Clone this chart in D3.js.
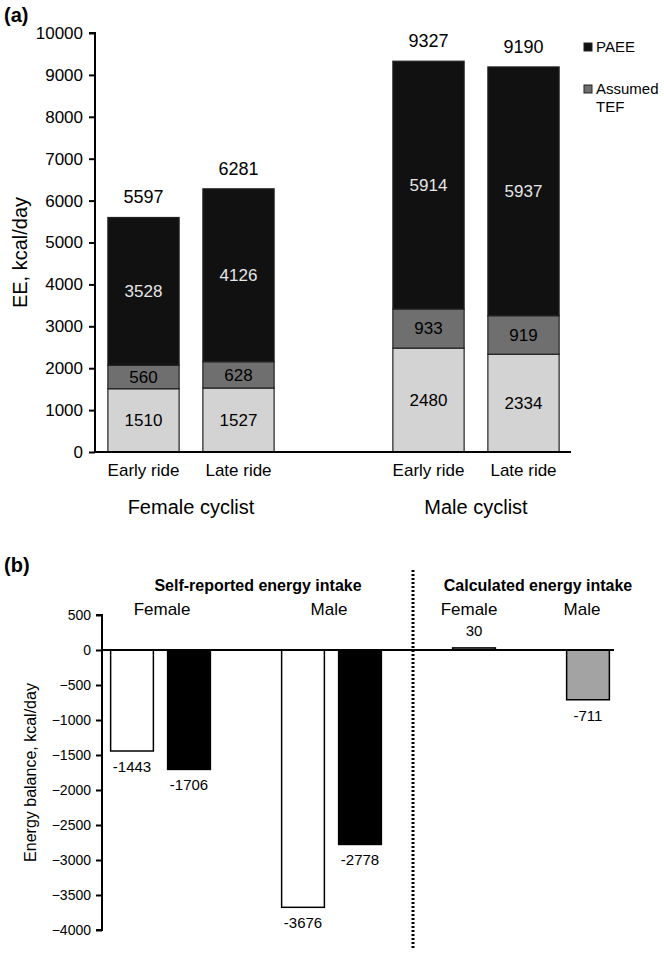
<!DOCTYPE html>
<html><head><meta charset="utf-8">
<script src="https://cdn.jsdelivr.net/npm/d3@7"></script>
<style>
body{margin:0;background:#fff;}
svg{display:block;font-family:"Liberation Sans",Arial,sans-serif;}
</style></head>
<body><svg id="c" width="664" height="954"></svg>
<script>
// ---- Panel (a) data ----
const rideSlots = ["F-Early","F-Late","gap","M-Early","M-Late"];
const rideLabels = ["Early ride","Late ride","","Early ride","Late ride"];
const rideCats = ["F-Early","F-Late","M-Early","M-Late"];
const baseEE = [1510,1527,2480,2334];
const tefEE = [560,628,933,919];
const paeeEE = [3528,4126,5914,5937];
const totalEE = [5597,6281,9327,9190];
const groupLabels = ["Female cyclist","Male cyclist"];
const eeTicks = [0,1000,2000,3000,4000,5000,6000,7000,8000,9000,10000];

// ---- Panel (b) data ----
const balSlots = ["SR-F-a","SR-F-b","g1","SR-M-a","SR-M-b","div","C-F","g2","C-M"];
const balCats = ["SR-F-a","SR-F-b","SR-M-a","SR-M-b","C-F","C-M"];
const balValues = [-1443,-1706,-3676,-2778,30,-711];
const balKinds = ["white","black","white","black","gray","gray"];
const balTicks = [500,0,-500,-1000,-1500,-2000,-2500,-3000,-3500,-4000];

const svg = d3.select("#c");
const FONT = "Liberation Sans, Arial, sans-serif";

// ================= Panel (a) =================
const ax0 = 95, ax1 = 571, ay0 = 452, ay1 = 33;
const xa = d3.scaleBand().domain(rideSlots).range([96,571]).paddingInner(0.25).paddingOuter(0.125);
const ya = d3.scaleLinear().domain([0,10000]).range([ay0, ay1]);

const gA = svg.append("g");
const segColors = {base:"#d3d3d3", tef:"#6f6f6f", paee:"#111111"};
rideCats.forEach((c,i)=>{
  const x = xa(c), w = xa.bandwidth();
  const segs = [
    {k:"base", y0:0, y1:baseEE[i], v:baseEE[i], tc:"#000"},
    {k:"tef", y0:baseEE[i], y1:baseEE[i]+tefEE[i], v:tefEE[i], tc:"#000"},
    {k:"paee", y0:baseEE[i]+tefEE[i], y1:totalEE[i], v:paeeEE[i], tc:"#e6e6e6"}
  ];
  segs.forEach(s=>{
    gA.append("rect").attr("x",x).attr("width",w)
      .attr("y",ya(s.y1)).attr("height",ya(s.y0)-ya(s.y1))
      .attr("fill",segColors[s.k]).attr("stroke","#222").attr("stroke-width",1.2);
    gA.append("text").attr("x",x+w/2).attr("y",(ya(s.y0)+ya(s.y1))/2)
      .attr("dy","0.35em").attr("text-anchor","middle")
      .attr("font-size",17).attr("fill",s.tc).text(s.v);
  });
  gA.append("text").attr("x",x+w/2).attr("y",ya(totalEE[i])-14)
    .attr("text-anchor","middle").attr("font-size",18).attr("fill","#000").text(totalEE[i]);
});

// y axis
const yAxisA = d3.axisLeft(ya).tickValues(eeTicks).tickSize(6).tickPadding(6).tickFormat(d3.format("d"));
const gya = gA.append("g").attr("transform",`translate(${ax0},0)`).call(yAxisA);
gya.select(".domain").attr("stroke","#000").attr("stroke-width",2).attr("d",`M-6,${ay1}H0V${ay0}`);
gya.selectAll(".tick line").attr("stroke","#000").attr("stroke-width",2);
gya.selectAll(".tick text").attr("font-size",17).attr("font-family",FONT).attr("fill","#000");
// x axis
const xAxisA = d3.axisBottom(xa).tickSize(0).tickPadding(12).tickFormat((d,i)=>rideLabels[i]);
const gxa = gA.append("g").attr("transform",`translate(0,${ay0})`).call(xAxisA);
gxa.select(".domain").attr("stroke","#000").attr("stroke-width",2).attr("d",`M${ax0},0H${ax1}`);
gxa.selectAll(".tick text").attr("font-size",17).attr("font-family",FONT).attr("fill","#000").attr("dy","0.71em");
// group labels
[[rideCats[0],rideCats[1]],[rideCats[2],rideCats[3]]].forEach((p,i)=>{
  const cx = (xa(p[0]) + xa(p[1]) + xa.bandwidth())/2;
  gA.append("text").attr("x",cx).attr("y",514).attr("text-anchor","middle")
    .attr("font-size",20).text(groupLabels[i]);
});
// y title
gA.append("text").attr("transform",`translate(27,${(ay0+ay1)/2+10}) rotate(-90)`)
  .attr("text-anchor","middle").attr("font-size",20).text("EE, kcal/day");
// panel label
gA.append("text").attr("x",4).attr("y",22).attr("font-size",20).attr("font-weight","bold").text("(a)");
// legend
const legA = [{t:["PAEE"],c:segColors.paee,y:47},{t:["Assumed","TEF"],c:segColors.tef,y:89}];
legA.forEach(l=>{
  gA.append("rect").attr("x",584).attr("y",l.y-4).attr("width",8).attr("height",8)
    .attr("fill",l.c).attr("stroke","#222").attr("stroke-width",1);
  l.t.forEach((t,j)=>{
    gA.append("text").attr("x",596).attr("y",l.y+j*18).attr("dy","0.35em")
      .attr("font-size",15).text(t);
  });
});

// ================= Panel (b) =================
const bx0 = 102, bx1 = 616;
const xb = d3.scaleBand().domain(balSlots).range([103.5,616.5]).paddingInner(0.25).paddingOuter(0.125);
const yb = d3.scaleLinear().domain([-4000,500]).range([930,615]);
const gB = svg.append("g");
const kindFill = {white:"#ffffff", black:"#000000", gray:"#a3a3a3"};
balCats.forEach((c,i)=>{
  const v = balValues[i], x = xb(c), w = xb.bandwidth();
  const y0 = yb(Math.max(0,v)), y1 = yb(Math.min(0,v));
  gB.append("rect").attr("x",x).attr("width",w).attr("y",y0).attr("height",Math.max(1,y1-y0))
    .attr("fill",kindFill[balKinds[i]]).attr("stroke","#000").attr("stroke-width",1.5);
  gB.append("text").attr("x",x+w/2).attr("text-anchor","middle").attr("font-size",15)
    .attr("y", v<0 ? yb(v)+21 : yb(v)-12).text(v);
});
const yAxisB = d3.axisLeft(yb).tickValues(balTicks).tickSize(6).tickPadding(5).tickFormat(d3.format("d"));
const gyb = gB.append("g").attr("transform",`translate(${bx0},0)`).call(yAxisB);
gyb.select(".domain").attr("stroke","#000").attr("stroke-width",2).attr("d",`M-6,${yb(500)}H0V${yb(-4000)}H-6`);
gyb.selectAll(".tick line").attr("stroke","#000").attr("stroke-width",2);
gyb.selectAll(".tick text").attr("font-size",14).attr("font-family",FONT).attr("fill","#000");
// zero line
gB.append("line").attr("x1",bx0).attr("x2",bx1-2).attr("y1",yb(0)).attr("y2",yb(0))
  .attr("stroke","#000").attr("stroke-width",2);
// divider dotted line
const divX = xb("div") + xb.bandwidth()/2 - 4;
gB.append("line").attr("x1",divX).attr("x2",divX).attr("y1",570).attr("y2",950)
  .attr("stroke","#000").attr("stroke-width",3).attr("stroke-dasharray","2,2");
// headers
const midSR = (xb("SR-F-a") + xb("SR-M-b") + xb.bandwidth())/2;
gB.append("text").attr("x",midSR+12).attr("y",591).attr("text-anchor","middle")
  .attr("font-size",16).attr("font-weight","bold").text("Self-reported energy intake");
gB.append("text").attr("x",538).attr("y",591).attr("text-anchor","middle")
  .attr("font-size",16).attr("font-weight","bold").text("Calculated energy intake");
const subs = [{t:"Female",x:162},{t:"Male",x:329},{t:"Female",x:469},{t:"Male",x:582}];
subs.forEach(s=>gB.append("text").attr("x",s.x).attr("y",615).attr("text-anchor","middle")
  .attr("font-size",17).text(s.t));
// y title
gB.append("text").attr("transform",`translate(36,${yb(-1750)}) rotate(-90)`)
  .attr("text-anchor","middle").attr("font-size",16).text("Energy balance, kcal/day");
gB.append("text").attr("x",4).attr("y",572).attr("font-size",20).attr("font-weight","bold").text("(b)");
</script></body></html>
